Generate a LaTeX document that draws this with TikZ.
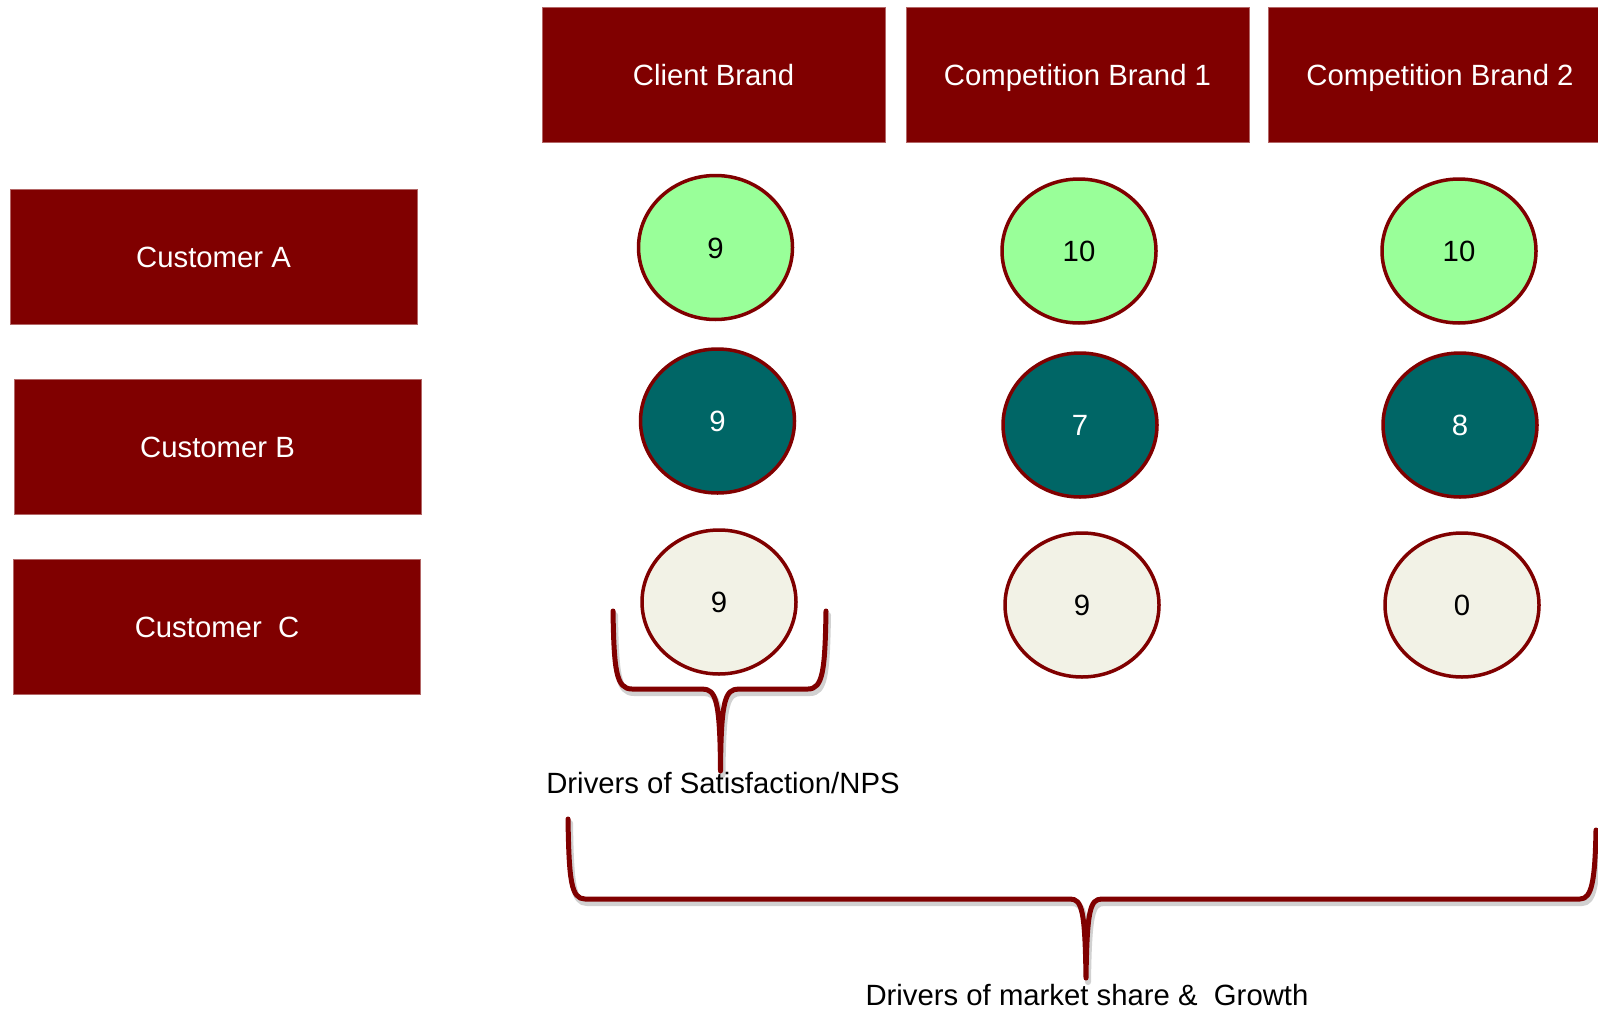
\documentclass[tikz,border=0pt]{standalone}
\usepackage{fontspec}
\setmainfont{Liberation Sans}
\usetikzlibrary{shapes.geometric}
\definecolor{brand}{HTML}{800000}
\definecolor{lgreen}{HTML}{99FF99}
\definecolor{tealc}{HTML}{006666}
\definecolor{cream}{HTML}{F2F2E6}
\begin{document}
\begin{tikzpicture}[x=1pt,y=-1pt,
  txt/.style={font=\fontsize{29.3}{35}\selectfont},
  boxtxt/.style={txt, text height=21pt, text depth=0pt},
  hdr/.style={boxtxt, fill=brand, draw=brand!60, line width=0.8pt, text=white, minimum width=343pt, minimum height=135pt, inner sep=0pt},
  cust/.style={boxtxt, fill=brand, draw=brand!60, line width=0.8pt, text=white, minimum width=407pt, minimum height=135pt, inner sep=0pt},
  bub/.style={boxtxt, ellipse, draw=brand, line width=3.5pt, minimum width=154pt, minimum height=144pt, inner sep=0pt},
  good/.style={bub, fill=lgreen, text=black},
  mid/.style={bub, fill=tealc, text=white},
  low/.style={bub, fill=cream, text=black},
  brace/.style={draw=brand, line width=5pt, line cap=round, line join=round},
  braceshadow/.style={draw=black!18, line width=6pt, line cap=round, line join=round},
  lbl/.style={txt, text=black, anchor=base, inner sep=0pt}
]
\useasboundingbox (0,0) rectangle (1598,1009);
\fill[white] (0,0) rectangle (1598,1009);

% headers
\node[hdr] (h1) at (713.5,74.5) {Client Brand};
\node[hdr] (h2) at (1077.5,74.5) {Competition Brand 1};
\node[hdr] (h3) at (1440,74.5) {Competition Brand 2};

% customers
\node[cust] (cA) at (213.5,256.5) {Customer A};
\node[cust] (cB) at (217.5,447) {Customer B};
\node[cust] (cC) at (217,627) {Customer\ \ C};

% bubbles
\node[good] (a1) at (715.5,247.5) {9};
\node[good] (a2) at (1079,251) {10};
\node[good] (a3) at (1459,251) {10};
\node[mid] (b1) at (717.5,421) {9};
\node[mid] (b2) at (1080,425) {7};
\node[mid] (b3) at (1460,425) {8};
\node[low] (c1) at (719,602) {9};
\node[low] (c2) at (1082,605) {9};
\node[low] (c3) at (1462,605) {0};

% small brace (shadow + line)
\begin{scope}[shift={(2,4)}]
\draw[braceshadow] (613,611) .. controls (614,670) and (616,689) .. (632,689) -- (702,689) .. controls (716,689) and (720,700) .. (720.5,771) .. controls (721,700) and (725,689) .. (739,689) -- (808,689) .. controls (823,689) and (825,670) .. (826,611);
\end{scope}
\draw[brace] (613,611) .. controls (614,670) and (616,689) .. (632,689) -- (702,689) .. controls (716,689) and (720,700) .. (720.5,771) .. controls (721,700) and (725,689) .. (739,689) -- (808,689) .. controls (823,689) and (825,670) .. (826,611);

% big brace (shadow + line)
\begin{scope}[shift={(2,4)}]
\draw[braceshadow] (568,819) .. controls (569,880) and (571,899) .. (585,899) -- (1070,899) .. controls (1082,899) and (1085,910) .. (1086,978) .. controls (1087,910) and (1090,899) .. (1102,899) -- (1580,899) .. controls (1592,899) and (1595,880) .. (1596,830);
\end{scope}
\draw[brace] (568,819) .. controls (569,880) and (571,899) .. (585,899) -- (1070,899) .. controls (1082,899) and (1085,910) .. (1086,978) .. controls (1087,910) and (1090,899) .. (1102,899) -- (1580,899) .. controls (1592,899) and (1595,880) .. (1596,830);

% labels
\node[lbl] (l1) at (723,793) {Drivers of Satisfaction/NPS};
\node[lbl] (l2) at (1087,1005) {Drivers of market share \&\ \ Growth};
\end{tikzpicture}
\end{document}
